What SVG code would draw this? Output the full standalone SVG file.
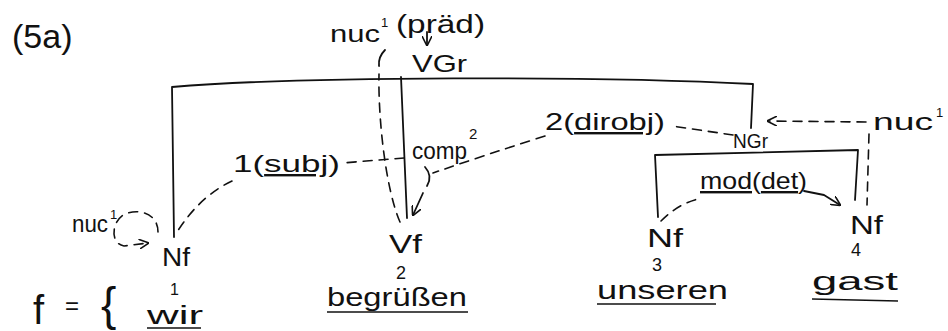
<svg xmlns="http://www.w3.org/2000/svg" width="948" height="331" viewBox="0 0 948 331">
<defs>
<style>
text{font-family:"Liberation Sans","DejaVu Sans",sans-serif;fill:#111;}
.t{font-size:24px;}
.sup{font-size:13px;}
.node{font-size:26px;}
.idx{font-size:18px;}
.word{font-size:26px;}
.ln{fill:none;stroke:#111;stroke-width:1.8;stroke-linecap:round;stroke-linejoin:round;}
.dash{fill:none;stroke:#111;stroke-width:1.6;stroke-dasharray:9 7;stroke-linecap:round;}
.ul{stroke:#111;stroke-width:1.5;}
</style>
<marker id="ah" viewBox="0 0 10 10" refX="9" refY="5" markerWidth="10" markerHeight="10" markerUnits="userSpaceOnUse" orient="auto">
<path d="M0,0 L10,5 L0,10" fill="none" stroke="#111" stroke-width="1.6"/>
</marker>
</defs>
<rect width="948" height="331" fill="#fff"/>

<text x="12" y="48" style="font-size:34px">(5a)</text>

<g id="connectors">
<!-- VGr constituency bracket -->
<path class="ln" d="M174,237 L172,87 C300,76 600,76 753,84 L751,128"/>
<path class="ln" d="M401,77 L407,218"/>
<!-- NGr constituency bracket -->
<path class="ln" d="M658,217 L655,155 L858,150 L855,200"/>
<!-- nuc1(präd) arrow to VGr -->
<path class="ln" d="M427,32 L427,45" marker-end="url(#ah)"/>
<!-- nuc line from Vf up to top -->
<path class="dash" d="M400,222 C386,190 378,120 379,74"/>
<path class="ln" d="M385,50 Q378,57 379,66"/>
<!-- 1(subj) -->
<path class="dash" d="M404,158 L342,163"/>
<path class="dash" d="M232,181 Q200,196 177,232"/>
<!-- 2(dirobj) / comp2 -->
<path class="dash" d="M733,135 L672,126"/>
<path class="dash" d="M545,136 Q485,155 433,173"/>
<path class="ln" d="M425,167 Q433,176 427,186"/>
<path class="ln" d="M423,193 L413,215" marker-end="url(#ah)"/>
<!-- nuc1 NGr -->
<path class="dash" d="M866,122 L768,121" marker-end="url(#ah)"/>
<path class="dash" d="M869,134 L867,205"/>
<!-- mod(det) -->
<path class="dash" d="M661,221 Q678,204 698,199"/>
<path class="ln" d="M804,191 L824,195 L840,205" marker-end="url(#ah)"/>
<!-- nuc1 self loop at Nf1 -->
<path class="dash" d="M158,232 C158,214 140,208 125,214 C111,221 110,244 124,246 L148,243" marker-end="url(#ah)"/>
</g>

<g id="label-nuc-praed">
<text x="330" y="42" class="t" textLength="50" lengthAdjust="spacingAndGlyphs">nuc</text>
<text x="381" y="27" class="sup">1</text>
<text x="396" y="33" style="font-size:26px" textLength="89" lengthAdjust="spacingAndGlyphs">(präd)</text>
</g>
<g id="label-subj">
<text x="233" y="172" style="font-size:24px" textLength="107" lengthAdjust="spacingAndGlyphs">1(<tspan text-decoration="underline">subj</tspan>)</text>
</g>
<g id="label-comp">
<text x="412" y="159" class="t" textLength="55" lengthAdjust="spacingAndGlyphs">comp</text>
<text x="469" y="139" style="font-size:15px">2</text>
</g>
<g id="label-dirobj">
<text x="545" y="130" style="font-size:24px" textLength="120" lengthAdjust="spacingAndGlyphs">2(<tspan text-decoration="underline">dirobj</tspan>)</text>
</g>
<g id="label-nuc-ngr">
<text x="873" y="130" class="t" textLength="60" lengthAdjust="spacingAndGlyphs">nuc</text>
<text x="936" y="117" class="sup">1</text>
</g>
<g id="label-mod">
<text x="700" y="189" class="t" textLength="107" lengthAdjust="spacingAndGlyphs"><tspan text-decoration="underline">mod</tspan>(<tspan text-decoration="underline">det</tspan>)</text>
</g>
<g id="label-nuc-nf1">
<text x="72" y="232" class="t" textLength="36" lengthAdjust="spacingAndGlyphs">nuc</text>
<text x="110" y="219" class="sup">1</text>
</g>

<g id="node-vgr"><text x="412" y="72" style="font-size:24px" textLength="55" lengthAdjust="spacingAndGlyphs">VGr</text></g>
<g id="node-ngr"><text x="733" y="148" style="font-size:20px" textLength="35" lengthAdjust="spacingAndGlyphs">NGr</text></g>
<g id="node-nf1"><text x="162" y="266" class="node" textLength="28" lengthAdjust="spacingAndGlyphs">Nf</text></g>
<g id="node-vf2"><text x="389" y="253" class="node" textLength="33" lengthAdjust="spacingAndGlyphs">Vf</text><text x="396" y="279" class="idx">2</text></g>
<g id="node-nf3"><text x="647" y="247" class="node" textLength="36" lengthAdjust="spacingAndGlyphs">Nf</text><text x="652" y="271" class="idx">3</text></g>
<g id="node-nf4"><text x="850" y="234" class="node" textLength="33" lengthAdjust="spacingAndGlyphs">Nf</text><text x="851" y="256" class="idx">4</text></g>

<g id="words">
<text x="33" y="324" style="font-size:40px">f</text>
<text x="65" y="314" style="font-size:24px">=</text>
<text x="101" y="320" style="font-size:46px">{</text>
<text x="170" y="295" style="font-size:16px">1</text>
<text x="147" y="324" class="word" textLength="56" lengthAdjust="spacingAndGlyphs">wir</text>
<line class="ul" x1="147" y1="328" x2="201" y2="328"/>
<text x="327" y="306" class="word" textLength="140" lengthAdjust="spacingAndGlyphs">begrüßen</text>
<line class="ul" x1="327" y1="312" x2="468" y2="312"/>
<text x="597" y="299" class="word" textLength="131" lengthAdjust="spacingAndGlyphs">unseren</text>
<line class="ul" x1="597" y1="304" x2="716" y2="304"/>
<text x="812" y="290" class="word" textLength="86" lengthAdjust="spacingAndGlyphs">gast</text>
<line class="ul" x1="812" y1="299" x2="898" y2="301"/>
</g>
</svg>
